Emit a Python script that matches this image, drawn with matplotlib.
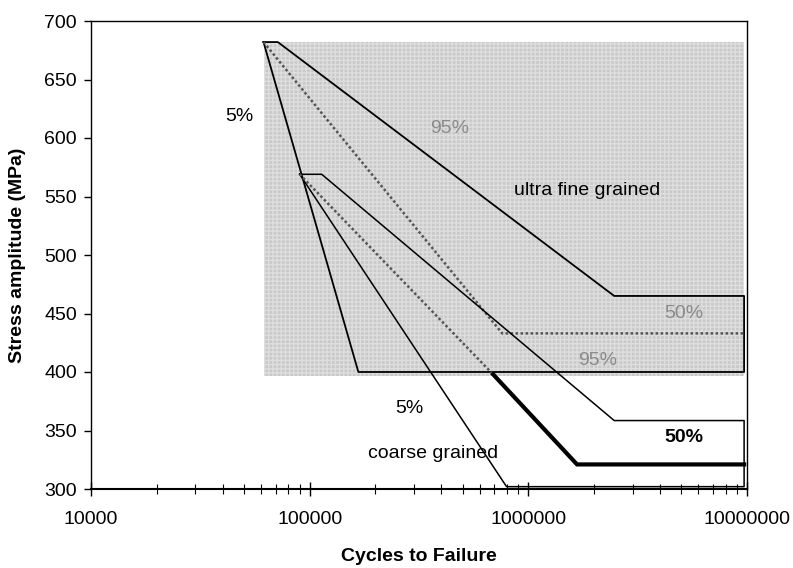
import numpy as np
import matplotlib.pyplot as plt
from matplotlib.ticker import FixedLocator, NullFormatter

plt.rcParams['font.family'] = ['Liberation Sans', 'DejaVu Sans']

# scatter band, ultra fine grained (5% / 95% outline)
ufg_band_n = [61500, 71500, 2.47e6, 9.7e6, 9.7e6, 167000, 61500]
ufg_band_s = [682, 682, 465, 465, 400, 400, 682]
# ultra fine grained 50% curve
ufg_mid_n = [61500, 760000, 9.7e6]
ufg_mid_s = [682, 433, 433]

# scatter band, coarse grained
cg_band_n = [90000, 113500, 2.47e6, 9.7e6, 9.7e6, 795000, 90000]
cg_band_s = [569, 569, 358.5, 358.5, 302, 302, 569]
# coarse grained 50% curve (dotted part inside shaded area, then solid)
cg_mid_in_n = [90000, 690000]
cg_mid_in_s = [569, 398]
cg_mid_out_n = [690000, 1.67e6, 9.7e6]
cg_mid_out_s = [398, 321, 321]

# shaded region
shade_n = [61500, 9.7e6]
shade_lo = 397
shade_hi = 682

x_ticks = [1e4, 1e5, 1e6, 1e7]
x_labels = ['10000', '100000', '1000000', '10000000']
y_ticks = [300, 350, 400, 450, 500, 550, 600, 650, 700]

fs = 14

fig = plt.figure(figsize=(7.93, 5.68), dpi=100)
ax = fig.add_axes([91 / 793, 1 - 489 / 568, (747 - 91) / 793, (489 - 21) / 568])

ax.fill_between(shade_n, shade_lo, shade_hi, facecolor='#c9c9c9',
                edgecolor='#dedede', hatch='++++', linewidth=0, zorder=1)

ax.plot(ufg_band_n, ufg_band_s, color='black', lw=1.3, zorder=3)
ax.plot(ufg_mid_n, ufg_mid_s, color='#555555', lw=1.8, ls=(0, (1, 1)), zorder=3)
ax.plot(cg_band_n, cg_band_s, color='black', lw=1.1, zorder=3)
ax.plot(cg_mid_in_n, cg_mid_in_s, color='#555555', lw=1.8, ls=(0, (1, 1)), zorder=3)
ax.plot(cg_mid_out_n, cg_mid_out_s, color='black', lw=3, zorder=3,
        solid_joinstyle='miter')

ax.text(47900, 618, '5%', fontsize=fs, ha='center', va='center')
ax.text(435000, 608, '95%', fontsize=fs, ha='center', va='center', color='#8a8a8a')
ax.text(1.86e6, 555, 'ultra fine grained', fontsize=fs, ha='center', va='center')
ax.text(5.15e6, 450, '50%', fontsize=fs, ha='center', va='center', color='#8a8a8a')
ax.text(2.07e6, 410, '95%', fontsize=fs, ha='center', va='center', color='#8a8a8a')
ax.text(286000, 369, '5%', fontsize=fs, ha='center', va='center')
ax.text(365000, 330.5, 'coarse grained', fontsize=fs, ha='center', va='center')
ax.text(5.15e6, 344, '50%', fontsize=fs, ha='center', va='center', fontweight='bold')

ax.set_xscale('log')
ax.set_xlim(1e4, 1e7)
ax.set_ylim(300, 700)
ax.xaxis.set_major_locator(FixedLocator(x_ticks))
ax.set_xticklabels(x_labels)
ax.xaxis.set_minor_locator(FixedLocator(
    [m * 10 ** e for e in range(4, 7) for m in range(2, 10)]))
ax.xaxis.set_minor_formatter(NullFormatter())
ax.set_yticks(y_ticks)

ax.tick_params(axis='x', which='major', direction='inout', length=10, width=1,
               labelsize=fs, pad=11)
ax.tick_params(axis='x', which='minor', direction='inout', length=7, width=0.8)
ax.tick_params(axis='y', direction='out', length=5, width=1, labelsize=fs, pad=5)

for sp in ax.spines.values():
    sp.set_linewidth(1)
ax.spines['bottom'].set_linewidth(1.5)

ax.set_xlabel('Cycles to Failure', fontsize=fs, fontweight='bold', labelpad=14)
ax.set_ylabel('Stress amplitude (MPa)', fontsize=fs, fontweight='bold', labelpad=13)

fig.savefig('out.png', dpi=100)
